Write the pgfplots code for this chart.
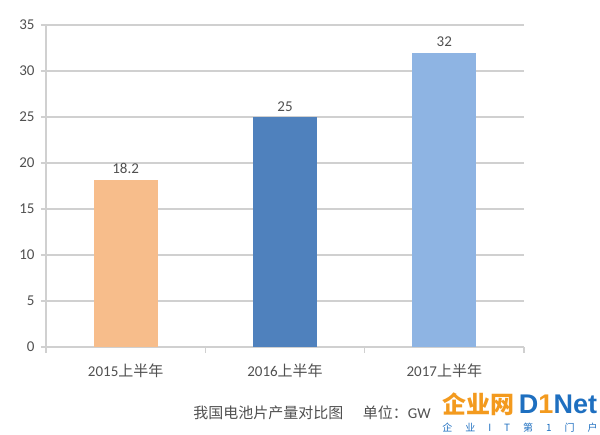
\documentclass[border=0pt]{standalone}
\usepackage{pgfplots}
\pgfplotsset{compat=1.18}
\usepackage{fontspec}
\setmainfont{Carlito}
\newfontfamily\cjk{Noto Sans CJK SC}
\newfontfamily\arialb{Liberation Sans}
\definecolor{peach}{HTML}{F7BD8B}
\definecolor{dblue}{HTML}{4F81BD}
\definecolor{lblue}{HTML}{8EB4E3}
\definecolor{gridgray}{HTML}{D0D0D0}
\definecolor{txt}{HTML}{505050}
\definecolor{wmorange}{HTML}{F39A1E}
\definecolor{wmblue}{HTML}{1E6FC0}
\begin{document}
\begin{tikzpicture}
\path[use as bounding box] (-46pt,-88pt) rectangle (554pt,347pt);
\begin{axis}[
  at={(0pt,0pt)}, anchor=south west,
  scale only axis, width=478pt, height=322pt,
  xmin=-0.5, xmax=2.5, ymin=0, ymax=35,
  ytick={0,5,...,35},
  xtick={0,1,2},
  xticklabels={2015{\cjk 上半年},2016{\cjk 上半年},2017{\cjk 上半年}},
  axis lines*=left,
  axis line style={draw=gridgray, line width=1.2pt},
  ymajorgrids,
  grid style={draw=gridgray, line width=1.2pt},
  tick align=outside,
  major tick length=5pt,
  ytick style={draw=gridgray, line width=1.2pt},
  xtick style={draw=none},
  extra x ticks={-0.5,0.5,1.5,2.5},
  extra x tick labels={},
  extra x tick style={xtick style={draw=gridgray, line width=1.2pt}, major tick length=6pt},
  ticklabel style={font=\fontsize{15}{17}\selectfont, text=txt},
  /pgf/number format/assume math mode=true,
  yticklabel style={xshift=-3pt},
  xticklabel style={yshift=-8pt},
  ybar, bar width=64pt, bar shift=0pt,
  nodes near coords,
  nodes near coords style={font=\fontsize{15}{17}\selectfont, text=txt, yshift=2pt, /pgf/number format/fixed},
  clip=false,
]
\addplot[fill=peach, draw=none] coordinates {(0,18.2)};
\addplot[fill=dblue, draw=none] coordinates {(1,25)};
\addplot[fill=lblue, draw=none] coordinates {(2,32)};
\end{axis}
\node[text=txt, font=\fontsize{15}{17}\selectfont] at (266pt,-66pt) {{\cjk 我国电池片产量对比图\hspace{1.3em}单位：}GW};
\node[text=wmorange, font=\fontsize{24}{26}\selectfont\cjk\bfseries, inner sep=0pt] at (432pt,-57pt) {企业网};
\node[text=wmblue, font=\fontsize{27}{29}\selectfont\arialb\bfseries, inner sep=0pt] at (512pt,-57pt) {D{\color{wmorange}1}Net};
\node[text=wmblue, font=\fontsize{10}{12}\selectfont\cjk, inner sep=0pt] at (474pt,-81pt) {企\hspace{1.3em}业\hspace{1.3em}I\hspace{1.3em}T\hspace{1.3em}第\hspace{1.3em}1\hspace{1.3em}门\hspace{1.3em}户};
\end{tikzpicture}
\end{document}
